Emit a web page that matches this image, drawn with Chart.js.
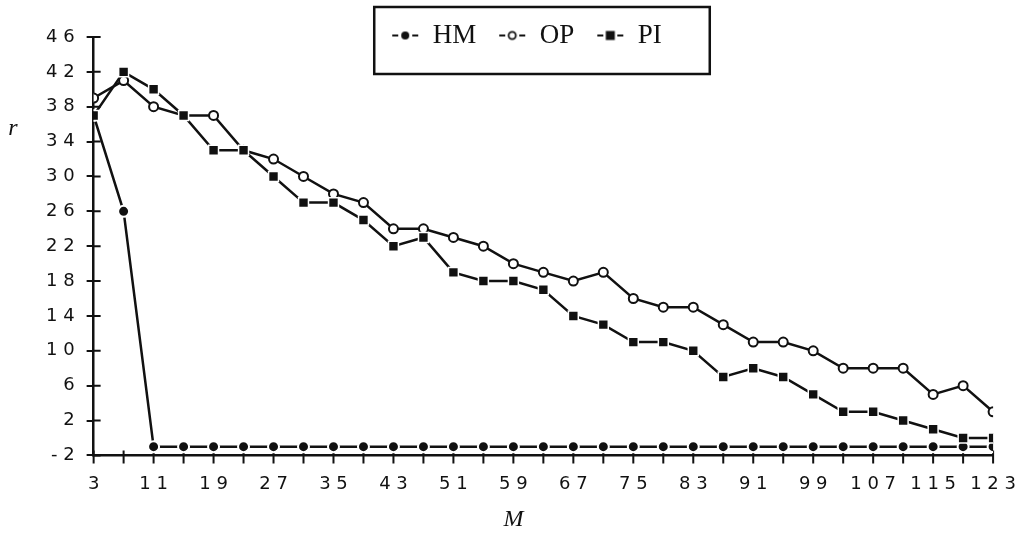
<!DOCTYPE html>
<html lang="fr">
<head>
<meta charset="utf-8">
<title>r en fonction de M</title>
<script src="https://cdn.jsdelivr.net/npm/chart.js@4.4.1/dist/chart.umd.min.js"></script>
<style>
  html, body { margin: 0; padding: 0; background: #fff; }
  #graphique { width: 1019px; height: 535px; position: relative; }
</style>
</head>
<body>
<div id="graphique"><canvas id="graphique-r"></canvas></div>
<script>
/*
    ********************************
        données
    ********************************
*/
const valeursM = [3, 7, 11, 15, 19, 23, 27, 31, 35, 39, 43, 47, 51, 55, 59, 63,
                  67, 71, 75, 79, 83, 87, 91, 95, 99, 103, 107, 111, 115, 119, 123];

const serieHM = [37, 26, -1, -1, -1, -1, -1, -1, -1, -1, -1, -1, -1, -1, -1, -1,
                 -1, -1, -1, -1, -1, -1, -1, -1, -1, -1, -1, -1, -1, -1, -1];

const serieOP = [39, 41, 38, 37, 37, 33, 32, 30, 28, 27, 24, 24, 23, 22, 20, 19,
                 18, 19, 16, 15, 15, 13, 11, 11, 10, 8, 8, 8, 5, 6, 3];

const seriePI = [37, 42, 40, 37, 33, 33, 30, 27, 27, 25, 22, 23, 19, 18, 18, 17,
                 14, 13, 11, 11, 10, 7, 8, 7, 5, 3, 3, 2, 1, 0, 0];

const etiquettesX = [3, 11, 19, 27, 35, 43, 51, 59, 67, 75, 83, 91, 99, 107, 115, 123];
const etiquettesY = [-2, 2, 6, 10, 14, 18, 22, 26, 30, 34, 38, 42, 46];

const NOIR = "#111";

// les chiffres des graduations sont espacés sur l'original ("4 6", "- 2")
function espacer(valeur) {
    return String(valeur).split("").join(" ");
}

function enPoints(serie) {
    return valeursM.map((m, i) => ({ x: m, y: serie[i] }));
}

/*
    ********************************
    petits symboles de la légende
    ( -●-  -o-  -■- )
    ********************************
*/
function symboleLegende(forme) {
    const c = document.createElement("canvas");
    c.width = 28;
    c.height = 12;
    const ctx = c.getContext("2d");
    ctx.strokeStyle = NOIR;
    ctx.fillStyle = NOIR;
    ctx.lineWidth = 2;
    ctx.beginPath();
    ctx.moveTo(1, 6); ctx.lineTo(7, 6);
    ctx.moveTo(21, 6); ctx.lineTo(27, 6);
    ctx.stroke();
    if (forme === "plein") {
        ctx.beginPath();
        ctx.arc(14, 6, 4, 0, Math.PI * 2);
        ctx.fill();
    } else if (forme === "vide") {
        ctx.beginPath();
        ctx.arc(14, 6, 3.6, 0, Math.PI * 2);
        ctx.fillStyle = "#fff";
        ctx.fill();
        ctx.lineWidth = 1.8;
        ctx.stroke();
    } else {
        ctx.fillRect(9.5, 1.5, 9, 9);
    }
    return c;
}
const symboles = {
    HM: symboleLegende("plein"),
    OP: symboleLegende("vide"),
    PI: symboleLegende("carre")
};

/*
    ********************************
    plugins : cadre de la légende,
    graduations qui traversent les
    axes, titres des axes
    ********************************
*/
const cadreLegende = {
    id: "cadreLegende",
    afterLayout(chart) {
        // la légende déborde sur la zone du graphique : on agrandit sa zone de dessin
        const legende = chart.legend;
        legende.height = 80;
        legende.bottom = legende.top + 80;
    },
    afterDraw(chart) {
        const boites = chart.legend.legendHitBoxes;
        if (!boites || !boites.length) return;
        const derniere = boites[boites.length - 1];
        const gauche = boites[0].left - 17;
        const droite = derniere.left + derniere.width + 48;
        const ctx = chart.ctx;
        ctx.save();
        ctx.strokeStyle = NOIR;
        ctx.lineWidth = 2.5;
        ctx.strokeRect(gauche, 7, droite - gauche, 67);
        ctx.restore();
    }
};

// les graduations de l'axe M traversent l'axe (5 px dedans, 8 px dessous)
const graduations = {
    id: "graduations",
    beforeDatasetsDraw(chart) {
        const { ctx, chartArea, scales } = chart;
        ctx.save();
        ctx.strokeStyle = NOIR;
        ctx.lineWidth = 2;
        ctx.beginPath();
        for (const t of scales.x.ticks) {
            const px = scales.x.getPixelForValue(t.value);
            ctx.moveTo(px, chartArea.bottom + 8);
            ctx.lineTo(px, chartArea.bottom - 5);
        }
        for (const t of scales.y.ticks) {
            const py = scales.y.getPixelForValue(t.value);
            ctx.moveTo(chartArea.left, py);
            ctx.lineTo(chartArea.left + 7, py);
        }
        ctx.stroke();
        ctx.restore();
    }
};

const titresAxes = {
    id: "titresAxes",
    afterDraw(chart) {
        const { ctx, scales } = chart;
        ctx.save();
        ctx.fillStyle = NOIR;
        ctx.font = "italic 24px 'Liberation Serif', 'Times New Roman', serif";
        ctx.textAlign = "center";
        ctx.textBaseline = "middle";
        ctx.fillText("r", 13, scales.y.getPixelForValue(35.5));
        ctx.fillText("M", scales.x.getPixelForValue(59), 520);
        ctx.restore();
    }
};

/*
    ********************************
        construction du graphique
    ********************************
*/
const styleLigne = {
    borderColor: NOIR,
    borderWidth: 2.5,
    tension: 0,
    fill: false
};

const data = {
    datasets: [
        Object.assign({
            label: "HM",
            data: enPoints(serieHM),
            pointStyle: "circle",
            pointRadius: 5.5,
            pointBackgroundColor: NOIR,
            pointBorderColor: "#fff",
            pointBorderWidth: 2,
            order: 3
        }, styleLigne),
        Object.assign({
            label: "OP",
            data: enPoints(serieOP),
            pointStyle: "circle",
            pointRadius: 4.5,
            pointBackgroundColor: "#fff",
            pointBorderColor: NOIR,
            pointBorderWidth: 2,
            order: 2
        }, styleLigne),
        Object.assign({
            label: "PI",
            data: enPoints(seriePI),
            pointStyle: "rect",
            pointRadius: 7,
            pointBackgroundColor: NOIR,
            pointBorderColor: "#fff",
            pointBorderWidth: 1.5,
            order: 1
        }, styleLigne)
    ]
};

const policeChiffres = { family: "'DejaVu Sans', Verdana, sans-serif", size: 18 };

const config = {
    type: "line",
    data: data,
    options: {
        responsive: true,
        maintainAspectRatio: false,
        animation: false,
        devicePixelRatio: 1,
        layout: { padding: { left: 34, right: 0, top: 0, bottom: 37 } },
        plugins: {
            tooltip: { enabled: false },
            legend: {
                position: "top",
                maxHeight: 37,
                labels: {
                    usePointStyle: true,
                    pointStyleWidth: 28,
                    padding: 22,
                    color: NOIR,
                    font: { family: "'Liberation Serif', 'Times New Roman', serif", size: 27 },
                    sort: (a, b) => a.datasetIndex - b.datasetIndex,
                    generateLabels(chart) {
                        const items = Chart.defaults.plugins.legend.labels.generateLabels(chart);
                        items.forEach((item) => { item.pointStyle = symboles[item.text]; });
                        return items;
                    }
                }
            }
        },
        scales: {
            x: {
                type: "linear",
                min: valeursM[0],
                max: valeursM[valeursM.length - 1],
                border: { display: true, color: NOIR, width: 2.5 },
                // marques dessinées par le plugin "graduations"
                grid: { drawOnChartArea: false, drawTicks: true, tickLength: 15, tickColor: "rgba(0,0,0,0)" },
                ticks: {
                    stepSize: valeursM[1] - valeursM[0],
                    autoSkip: false,
                    maxRotation: 0,
                    padding: 3,
                    color: NOIR,
                    font: policeChiffres,
                    callback: (v) => etiquettesX.includes(v) ? espacer(v) : ""
                }
            },
            y: {
                type: "linear",
                min: etiquettesY[0],
                max: etiquettesY[etiquettesY.length - 1],
                border: { display: true, color: NOIR, width: 2.5 },
                grid: { drawOnChartArea: false, drawTicks: true, tickLength: 7, color: NOIR, lineWidth: 2 },
                ticks: {
                    stepSize: etiquettesY[1] - etiquettesY[0],
                    autoSkip: false,
                    padding: 12,
                    color: NOIR,
                    font: policeChiffres,
                    callback: (v) => espacer(v)
                }
            }
        }
    },
    plugins: [graduations, cadreLegende, titresAxes]
};

const graphiqueR = new Chart(document.querySelector("#graphique-r"), config);
</script>
</body>
</html>
